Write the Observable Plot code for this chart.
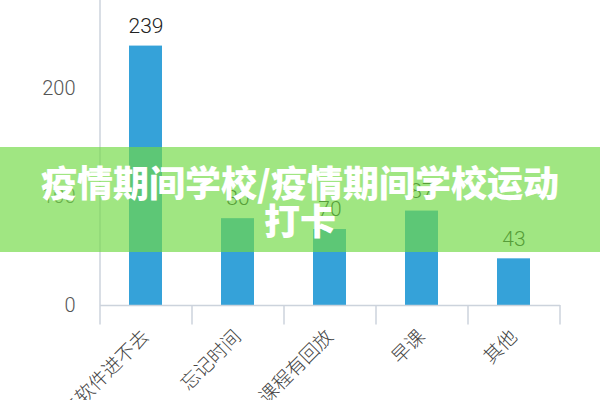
<!DOCTYPE html>
<html>
<head>
<meta charset="utf-8">
<script src="https://cdn.jsdelivr.net/npm/d3@7"></script>
<script src="https://cdn.jsdelivr.net/npm/@observablehq/plot@0.6"></script>
<style>
  html, body { margin: 0; padding: 0; background: #fff; }
  #wrap { position: relative; width: 600px; height: 400px; overflow: hidden; font-family: "Noto Sans CJK SC", "Noto Sans", sans-serif; }
  #banner { position: absolute; left: 0; top: 147px; width: 600px; height: 105px; background: rgba(114,218,69,0.67);
    display: flex; align-items: center; justify-content: center; text-align: center;
    color: #fff; font-weight: 900; font-size: 36px; line-height: 38px; }
  .num text { font-family: Roboto, "Liberation Sans", sans-serif; font-weight: 300; }
  .cat text { font-weight: 300; }
</style>
</head>
<body>
<div id="wrap">
  <div id="chart"></div>
  <div id="banner"><div>疫情期间学校/疫情期间学校运动<br>打卡</div></div>
</div>
<script>
const categories = ["打卡软件进不去", "忘记时间", "课程有回放", "早课", "其他"];
const values = [239, 80, 70, 87, 43];
const yTicks = [0, 100, 200];

const data = categories.map((c, i) => ({category: c, value: values[i]}));

const chart = Plot.plot({
  width: 600,
  height: 400,
  marginLeft: 100,
  marginRight: 40,
  marginTop: 0,
  marginBottom: 95,
  style: {fontFamily: '"Noto Sans CJK SC", "Noto Sans", sans-serif', background: "#fff"},
  x: {domain: categories, paddingInner: 0.64, paddingOuter: 0.32, label: null},
  y: {domain: [0, 281], label: null},
  marks: [
    Plot.barY(data, {x: "category", y: "value", fill: "#35a2d9"}),
    Plot.text(data, {x: "category", y: "value", text: d => String(d.value), dy: -20, fontSize: 21, fill: "#222", className: "num"}),
    Plot.ruleY([0], {stroke: "#ccd3dc", strokeWidth: 1.5}),
    Plot.ruleX([0], {x: () => categories[0], dx: -46, y1: 0, y2: 281, stroke: "#ccd3dc", strokeWidth: 1.5}),
    Plot.ruleX(categories, {x: d => d, dx: -46, y1: 0, y2: -18, stroke: "#ccd3dc", strokeWidth: 1.5}),
    Plot.ruleX([categories[categories.length - 1]], {x: d => d, dx: 46, y1: 0, y2: -18, stroke: "#ccd3dc", strokeWidth: 1.5}),
    Plot.axisY({ticks: yTicks, tickSize: 0, tickPadding: 25, fontSize: 20, color: "#555", label: null, className: "num"}),
    Plot.axisX({tickSize: 0, tickRotate: -45, tickPadding: 28, fontSize: 19, color: "#444", label: null, className: "cat"})
  ]
});
document.getElementById("chart").appendChild(chart);
</script>
</body>
</html>
